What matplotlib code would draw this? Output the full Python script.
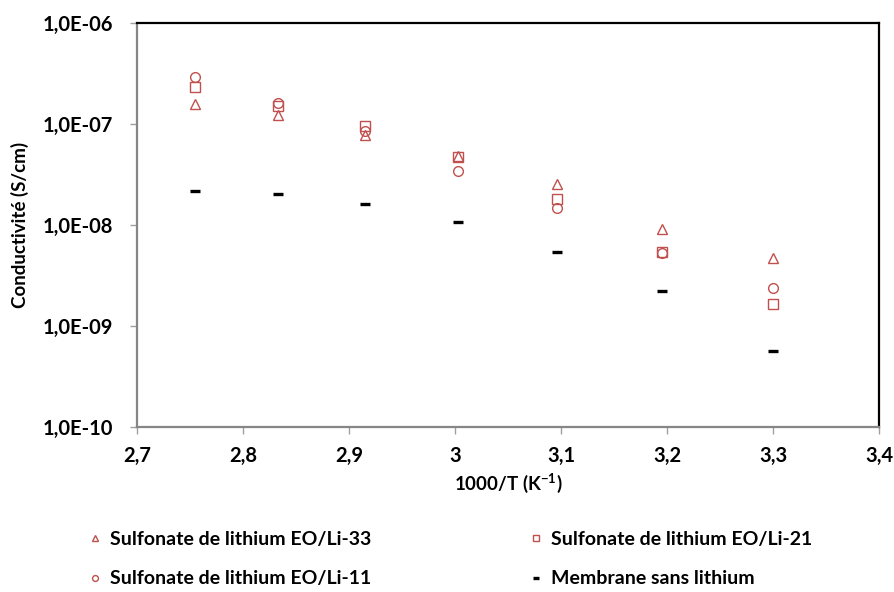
import matplotlib
matplotlib.use("Agg")
import matplotlib.pyplot as plt
from matplotlib.ticker import FixedLocator, NullLocator

plt.rcParams['font.family'] = ['Lato', 'DejaVu Sans']
plt.rcParams['font.weight'] = 'bold'
plt.rcParams['mathtext.fontset'] = 'custom'
plt.rcParams['mathtext.rm'] = 'Lato:bold'
plt.rcParams['mathtext.bf'] = 'Lato:bold'

# inverse temperature 1000/T (K^-1)
inv_T = [2.755, 2.833, 2.915, 3.003, 3.096, 3.195, 3.300]

# conductivities (S/cm)
li33 = [1.58e-7, 1.22e-7, 7.8e-8, 4.8e-8, 2.55e-8, 9.2e-9, 4.7e-9]
li21 = [2.34e-7, 1.51e-7, 9.5e-8, 4.7e-8, 1.81e-8, 5.4e-9, 1.64e-9]
li11 = [2.94e-7, 1.63e-7, 8.6e-8, 3.43e-8, 1.49e-8, 5.3e-9, 2.4e-9]
membrane = [2.19e-8, 2.01e-8, 1.61e-8, 1.06e-8, 5.4e-9, 2.22e-9, 5.6e-10]

labels = ["Sulfonate de lithium EO/Li-33", "Sulfonate de lithium EO/Li-21",
          "Sulfonate de lithium EO/Li-11", "Membrane sans lithium"]

x_ticks = [2.7, 2.8, 2.9, 3.0, 3.1, 3.2, 3.3, 3.4]
x_ticklabels = ["2,7", "2,8", "2,9", "3", "3,1", "3,2", "3,3", "3,4"]
y_ticks = [1e-10, 1e-9, 1e-8, 1e-7, 1e-6]
y_ticklabels = ["1,0E-10", "1,0E-09", "1,0E-08", "1,0E-07", "1,0E-06"]

red = '#C0504D'
W, H = 895, 592
fig = plt.figure(figsize=(W/100, H/100), dpi=100)
ax = fig.add_axes([137/W, 1-427/H, (879-137)/W, (427-23)/H])

ms = 7
h33, = ax.plot(inv_T, li33, ls='none', marker='^', ms=ms, mfc='none', mec=red, mew=1.0)
h21, = ax.plot(inv_T, li21, ls='none', marker='s', ms=ms-0.5, mfc='none', mec=red, mew=1.0)
h11, = ax.plot(inv_T, li11, ls='none', marker='o', ms=ms, mfc='none', mec=red, mew=1.0)
hm, = ax.plot(inv_T, membrane, ls='none', marker='_', ms=7.5, mec='black', mew=2.4)

ax.set_yscale('log')
ax.set_xlim(2.7, 3.4)
ax.set_ylim(1e-10, 1e-6)
ax.xaxis.set_major_locator(FixedLocator(x_ticks))
ax.set_xticklabels(x_ticklabels)
ax.yaxis.set_major_locator(FixedLocator(y_ticks))
ax.yaxis.set_minor_locator(NullLocator())
ax.set_yticklabels(y_ticklabels)

for s in ['left', 'bottom']:
    ax.spines[s].set_color('#868686')
    ax.spines[s].set_linewidth(1.6)
for s in ['top', 'right']:
    ax.spines[s].set_color('black')
    ax.spines[s].set_linewidth(1.6)
ax.tick_params(axis='both', which='major', direction='out', length=5, width=1,
               color='#A0A0A0', labelsize=14.5)
ax.tick_params(axis='y', pad=12)
ax.tick_params(axis='x', pad=9)

ax.set_xlabel("1000/T (K$^{-1}$)", fontsize=13.5, fontweight='bold', labelpad=3)
ax.set_ylabel("Conductivité (S/cm)", fontsize=13.5, fontweight='bold', labelpad=10)

common = dict(loc='upper left', frameon=False, fontsize=14, markerscale=0.6,
              handlelength=0.6, handletextpad=0.5, labelspacing=1.15,
              borderpad=0, borderaxespad=0)
leg1 = fig.legend([h33, h11], [labels[0], labels[2]],
                  bbox_to_anchor=(89/W, 1-531/H), **common)
leg2 = fig.legend([h21, hm], [labels[1], labels[3]],
                  bbox_to_anchor=(530/W, 1-531/H), **common)

fig.savefig("out.png", dpi=100)
